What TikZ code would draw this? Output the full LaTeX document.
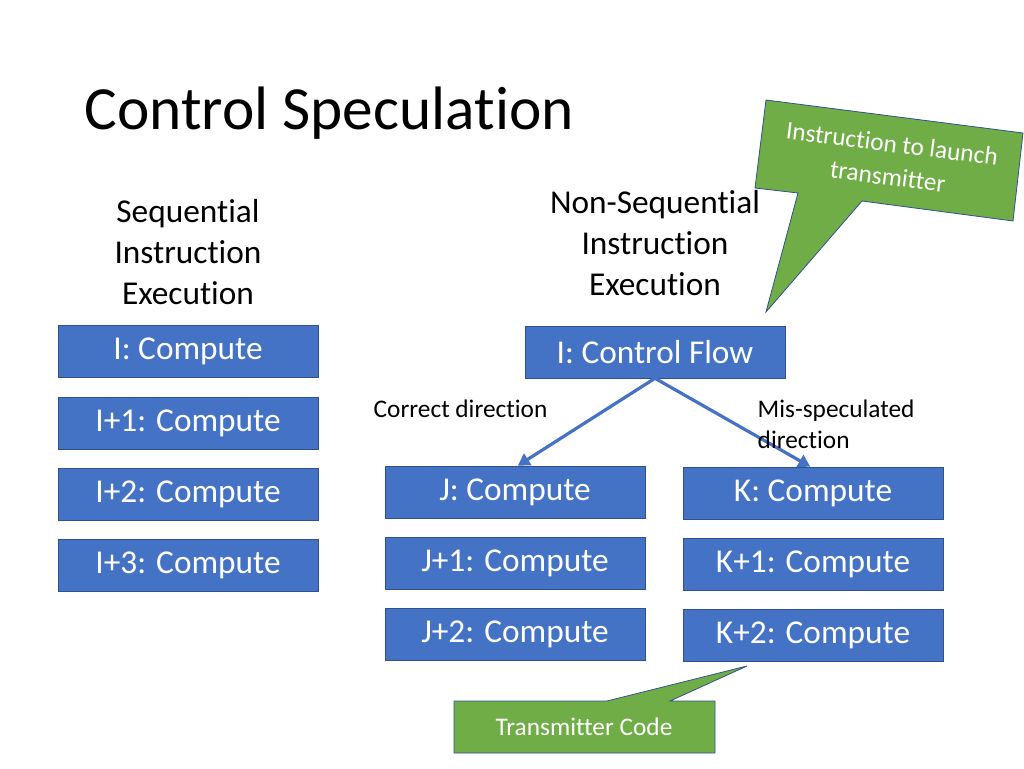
\documentclass[tikz,border=0pt]{standalone}
\usepackage{fontspec}
\setmainfont{Carlito}[RawFeature={-liga;-calt;-clig}]
\usetikzlibrary{arrows.meta}
\definecolor{boxblue}{HTML}{4472C4}
\definecolor{edgeblue}{HTML}{2F528F}
\definecolor{callgreen}{HTML}{70AD47}
\tikzset{
  instr/.style={draw=edgeblue, fill=boxblue, text=white, minimum width=195pt,
    minimum height=39pt, inner sep=0pt, font=\fontsize{25}{30}\selectfont},
  head/.style={align=center, font=\fontsize{25}{31}\selectfont},
  lbl/.style={align=left, anchor=west, font=\fontsize{19}{23}\selectfont},
  callout/.style={draw=edgeblue, fill=callgreen, line width=0.6pt},
  flow/.style={draw=boxblue, line width=2.4pt, -{Triangle[length=9pt,width=10pt]}}
}
\begin{document}
\begin{tikzpicture}[x=0.75pt,y=-0.75pt]
    \useasboundingbox (0,0) rectangle (1024,768);

    \node [anchor=west, font=\fontsize{46}{50}\selectfont] (title) at (80,113) {Control Speculation};

    \node [head] (seqhead) at (188,252) {Sequential\\Instruction\\Execution};
    \node [head] (nonseqhead) at (655,243) {Non-Sequential\\Instruction\\Execution};

    % sequential column
    \node [instr] (i0) at (188,351) {I: Compute};
    \node [instr] (i1) at (188,423) {I+1: Compute};
    \node [instr] (i2) at (188,494) {I+2: Compute};
    \node [instr] (i3) at (188,565) {I+3: Compute};

    % non-sequential
    \node [instr] (cf) at (655,352) {I: Control Flow};
    \node [instr] (j0) at (515,492) {J: Compute};
    \node [instr] (j1) at (515,563) {J+1: Compute};
    \node [instr] (j2) at (515,634) {J+2: Compute};
    \node [instr] (k0) at (813,493) {K: Compute};
    \node [instr] (k1) at (813,564) {K+1: Compute};
    \node [instr] (k2) at (813,635) {K+2: Compute};

    \draw [flow] (cf.south) -- ([xshift=2pt]j0.north);
    \draw [flow] (cf.south) -- ([xshift=-2pt]k0.north);

    \node [lbl] (corr) at (369,409) {Correct direction};
    \node [lbl, text width=130pt] (mis) at (753,424) {Mis-speculated\\direction};

    % callouts
    \draw [callout] (766,100) -- (1023,133) -- (1013,221) -- (862,201) -- (766,312) -- (798,193)
        -- (755,188) -- cycle;
    \node [text=white, align=center, rotate=-7.3, font=\fontsize{19}{25}\selectfont] (launch)
        at (890,160) {Instruction to launch\\transmitter};

    \draw [callout] (454,701) -- (607,701) -- (747,666) -- (670,701) -- (715,701) -- (715,753)
        -- (454,753) -- cycle;
    \node [text=white, font=\fontsize{19}{22}\selectfont] (tcode) at (584,727) {Transmitter Code};
\end{tikzpicture}
\end{document}
